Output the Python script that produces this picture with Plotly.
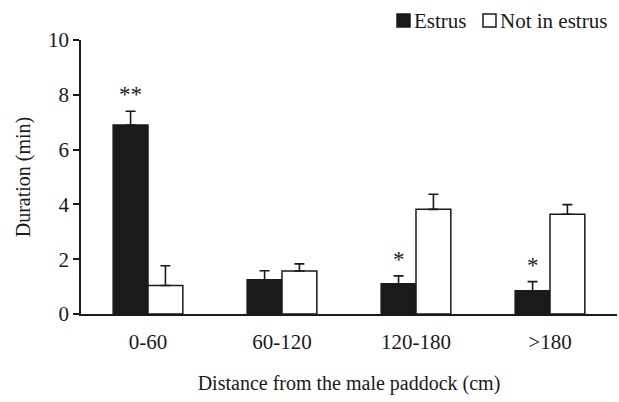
import plotly.graph_objects as go

categories = ["0-60", "60-120", "120-180", ">180"]
estrus = [6.90, 1.25, 1.10, 0.85]
estrus_err = [0.50, 0.33, 0.29, 0.33]
not_estrus = [1.04, 1.57, 3.82, 3.64]
not_estrus_err = [0.72, 0.26, 0.55, 0.35]
estrus_sig = ["**", "", "*", "*"]
series_names = ["Estrus", "Not in estrus"]
series_fill = ["#1a1a1a", "white"]

FONT = "Liberation Serif"
INK = "#1a1a1a"
FS = 21

fig = go.Figure()
for name, vals, errs, fill in zip(series_names, [estrus, not_estrus],
                                  [estrus_err, not_estrus_err], series_fill):
    fig.add_trace(go.Bar(
        x=categories, y=vals, name=name,
        marker=dict(color=fill, line=dict(color=INK, width=1.5)),
        error_y=dict(type="data", array=errs, arrayminus=[0]*len(errs), symmetric=False,
                     color=INK, thickness=1.6, width=5),
    ))

for c, v, e, s in zip(categories, estrus, estrus_err, estrus_sig):
    if s:
        fig.add_annotation(x=c, y=v + e, text=s, showarrow=False, xshift=-17.5,
                           yanchor="bottom", yshift=2, font=dict(family=FONT, size=23, color=INK))

# manual legend (kept in the top margin so it does not push the plot area)
L, R, T, B = 81, 617, 40, 314
def px(x):
    return (x - L) / (R - L)
def py(y):
    return (B - y) / (B - T)
leg_x = [397, 483]
for name, fill, x0 in zip(series_names, series_fill, leg_x):
    fig.add_shape(type="rect", xref="paper", yref="paper",
                  x0=px(x0), x1=px(x0 + 13), y0=py(27), y1=py(14),
                  fillcolor=fill, line=dict(color=INK, width=1.5))
    fig.add_annotation(xref="paper", yref="paper", x=px(x0 + 15), y=py(21),
                       text=name, showarrow=False, xanchor="left", yanchor="middle",
                       font=dict(family=FONT, size=FS, color=INK))

fig.update_layout(
    width=619, height=402,
    margin=dict(l=L, r=619 - R, t=T, b=402 - B),
    paper_bgcolor="white", plot_bgcolor="white",
    barmode="group", bargap=0.48, bargroupgap=0,
    font=dict(family=FONT, size=FS, color=INK),
    showlegend=False,
    xaxis=dict(showline=True, linecolor=INK, linewidth=1.5, ticks="",
               tickfont=dict(family=FONT, size=FS), ticklabelstandoff=8,
               title=dict(text="Distance from the male paddock (cm)", standoff=23,
                          font=dict(family=FONT, size=20))),
    yaxis=dict(range=[0, 10], dtick=2, showline=True, linecolor=INK, linewidth=1.5,
               ticks="outside", ticklen=6, tickwidth=1.5, tickcolor=INK, showgrid=False,
               zeroline=False, tickfont=dict(family=FONT, size=FS),
               title=dict(text="Duration (min)", standoff=12, font=dict(family=FONT, size=20))),
)

fig.write_html("out.html")
